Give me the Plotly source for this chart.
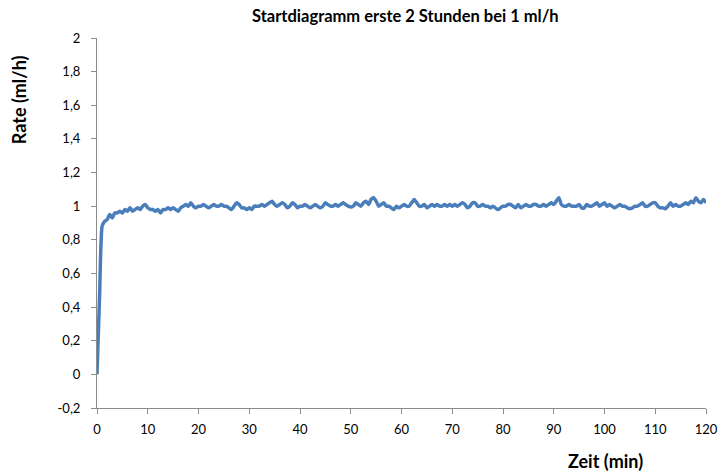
import plotly.graph_objects as go

# Measured flow rate (ml/h), one sample every 0.5 min from t = 0 to 120 min
rate_0_10 = [0.00,
             0.46, 0.88, 0.91, 0.92, 0.95, 0.93, 0.96, 0.96, 0.97, 0.96,
             0.98, 0.97, 0.99, 0.97, 0.98, 0.99, 0.98, 1.00, 1.01, 0.99]
rate_10_20 = [0.98, 0.98, 0.97, 0.98, 0.96, 0.98, 0.98, 0.99, 0.98, 0.99,
              0.98, 0.97, 0.99, 1.00, 1.01, 1.00, 1.02, 1.00, 0.99, 1.00]
rate_20_30 = [1.00, 1.01, 1.00, 0.99, 1.00, 1.01, 1.00, 1.00, 1.01, 1.00,
              1.00, 0.99, 0.98, 1.00, 1.02, 1.01, 0.99, 0.99, 0.98, 0.99]
rate_30_40 = [0.98, 1.00, 1.00, 1.00, 1.01, 1.00, 1.01, 1.02, 1.03, 1.01,
              1.00, 1.01, 1.02, 1.01, 0.99, 1.00, 1.02, 1.01, 0.99, 1.00]
rate_40_50 = [1.00, 1.01, 1.00, 0.99, 1.00, 1.01, 1.00, 0.99, 1.00, 1.02,
              1.01, 1.00, 1.00, 1.01, 1.00, 1.01, 1.02, 1.01, 1.00, 0.995]
rate_50_60 = [1.00, 1.02, 1.01, 1.00, 1.02, 1.03, 1.01, 1.04, 1.05, 1.03,
              1.00, 1.01, 1.02, 1.00, 1.00, 0.99, 0.98, 1.00, 0.99, 1.00]
rate_60_70 = [1.01, 1.00, 1.00, 1.02, 1.04, 1.02, 1.00, 1.00, 1.01, 0.99,
              1.00, 1.01, 1.00, 1.01, 1.00, 1.00, 1.01, 1.00, 1.01, 1.00]
rate_70_80 = [1.01, 1.00, 1.01, 1.02, 1.01, 0.99, 1.00, 1.02, 1.02, 1.00,
              1.00, 1.01, 1.00, 1.00, 0.99, 1.00, 0.99, 0.98, 0.99, 1.00]
rate_80_90 = [1.00, 1.01, 1.01, 1.00, 0.99, 1.01, 0.99, 1.00, 1.01, 1.00,
              1.00, 1.01, 1.01, 1.00, 1.00, 1.01, 1.00, 1.01, 1.02, 1.01]
rate_90_100 = [1.03, 1.05, 1.01, 1.00, 1.00, 1.01, 1.00, 1.00, 1.00, 1.01,
               0.99, 0.99, 1.01, 1.00, 1.00, 1.01, 1.02, 1.00, 1.01, 1.02]
rate_100_110 = [1.00, 1.01, 1.00, 0.99, 1.00, 1.01, 1.00, 1.00, 0.99, 0.985,
                0.99, 1.00, 1.00, 1.01, 1.02, 1.00, 1.00, 1.01, 1.02, 1.02]
rate_110_120 = [1.00, 0.99, 0.99, 0.985, 1.00, 1.02, 1.00, 1.01, 1.00, 1.00,
                1.01, 1.02, 1.01, 1.03, 1.02, 1.05, 1.03, 1.02, 1.04, 1.02]

rate = (rate_0_10 + rate_10_20 + rate_20_30 + rate_30_40 + rate_40_50
        + rate_50_60 + rate_60_70 + rate_70_80 + rate_80_90 + rate_90_100
        + rate_100_110 + rate_110_120)
time_step = 0.5
time_min = [i * time_step for i in range(len(rate))]

# Axis ticks
x_ticks = [0, 10, 20, 30, 40, 50, 60, 70, 80, 90, 100, 110, 120]
y_ticks = [-0.2, 0, 0.2, 0.4, 0.6, 0.8, 1.0, 1.2, 1.4, 1.6, 1.8, 2.0]
y_tick_labels = ["-0,2", "0", "0,2", "0,4", "0,6", "0,8", "1", "1,2",
                 "1,4", "1,6", "1,8", "2"]

title_text = "Startdiagramm erste 2 Stunden bei 1 ml/h"
x_title = "Zeit (min)"
y_title = "Rate (ml/h)"

label_font = dict(family="Lato, Open Sans, sans-serif", size=13, color="#000000")
title_font = dict(family="Lato, Open Sans, sans-serif", size=16.5, color="#000000")
axis_title_font = dict(family="Lato, Open Sans, sans-serif", size=18, color="#000000")
axis_color = "#8c8c8c"

fig = go.Figure()
fig.add_trace(go.Scatter(
    x=time_min, y=rate, mode="lines",
    line=dict(color="#4a7ebb", width=3.5, shape="spline", smoothing=0.5),
    hoverinfo="skip", showlegend=False,
))

fig.update_layout(
    width=723, height=474,
    margin=dict(l=97, r=17, t=38, b=66, autoexpand=False),
    paper_bgcolor="white", plot_bgcolor="white",
    separators=",.",
    showlegend=False,
    xaxis=dict(
        range=[0, 120], tickmode="array", tickvals=x_ticks,
        showgrid=False, zeroline=False, automargin=False,
        showline=True, linecolor=axis_color, linewidth=1,
        ticks="outside", ticklen=5, tickcolor=axis_color,
        tickfont=label_font, ticklabelstandoff=4,
    ),
    yaxis=dict(
        range=[-0.2, 2.0], tickmode="array", tickvals=y_ticks,
        ticktext=y_tick_labels,
        showgrid=False, zeroline=False, automargin=False,
        showline=True, linecolor=axis_color, linewidth=1,
        ticks="outside", ticklen=5, tickcolor=axis_color,
        tickfont=label_font, ticklabelstandoff=8,
    ),
    annotations=[
        dict(text="<b>" + title_text + "</b>", xref="paper", yref="paper",
             x=0.506, y=1.0, yshift=22, xanchor="center", yanchor="middle",
             showarrow=False, font=title_font),
        dict(text="<b>" + x_title + "</b>", xref="paper", yref="paper",
             x=0.835, y=0.0, yshift=-53, xanchor="center", yanchor="middle",
             showarrow=False, font=axis_title_font),
        dict(text="<b>" + y_title + "</b>", xref="paper", yref="paper",
             x=0.0, xshift=-78, y=0.832, xanchor="center", yanchor="middle",
             textangle=-90, showarrow=False, font=axis_title_font),
    ],
)

fig.write_html("out.html")
